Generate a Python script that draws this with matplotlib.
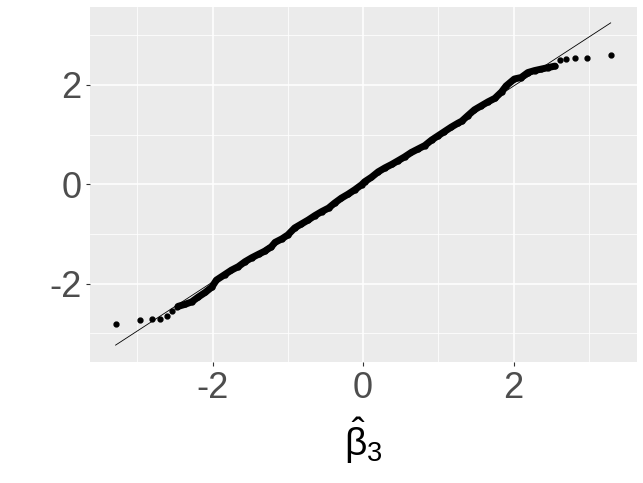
import numpy as np
import matplotlib
matplotlib.use("Agg")
import matplotlib.pyplot as plt
from matplotlib.ticker import FixedLocator

# QQ plot of beta_3 hat: theoretical normal quantiles vs sample quantiles
# tails (isolated points) and dense body
tail_lo_x = [-3.29, -2.97, -2.81, -2.70, -2.61, -2.54, -2.48]
tail_lo_y = [-2.82, -2.74, -2.72, -2.72, -2.66, -2.56, -2.47]

body_x = [-2.46, -2.37, -2.28, -2.19, -2.10, -2.01, -1.95, -1.84, -1.75, -1.66,
          -1.57, -1.48, -1.39, -1.31, -1.22, -1.17, -1.08, -1.00, -0.91, -0.82,
          -0.73, -0.64, -0.55, -0.46, -0.38, -0.29, -0.20, -0.11, -0.02, 0.02,
          0.11, 0.20, 0.29, 0.38, 0.46, 0.55, 0.64, 0.73, 0.82, 0.91,
          1.00, 1.08, 1.17, 1.26, 1.31, 1.39, 1.48, 1.57, 1.66, 1.75,
          1.84, 1.90, 2.01, 2.10, 2.19, 2.28, 2.37, 2.46, 2.55]
body_y = [-2.46, -2.42, -2.37, -2.27, -2.18, -2.07, -1.93, -1.82, -1.73, -1.66,
          -1.56, -1.48, -1.41, -1.35, -1.26, -1.17, -1.10, -1.02, -0.88, -0.80,
          -0.72, -0.63, -0.55, -0.48, -0.38, -0.28, -0.20, -0.11, -0.01, 0.05,
          0.14, 0.25, 0.33, 0.40, 0.47, 0.55, 0.64, 0.71, 0.78, 0.89,
          0.98, 1.06, 1.15, 1.23, 1.27, 1.38, 1.50, 1.58, 1.66, 1.73,
          1.86, 1.98, 2.12, 2.15, 2.25, 2.29, 2.32, 2.35, 2.38]

tail_hi_x = [2.61, 2.70, 2.81, 2.97, 3.29]
tail_hi_y = [2.51, 2.52, 2.54, 2.54, 2.61]

# reference line (through the quartiles), ends at the theoretical range
qq_line_x = [-3.29, 3.29]
qq_line_y = [-3.24, 3.25]

ticks = [-2, 0, 2]
tick_labels = ["-2", "0", "2"]
minor_ticks = [-3, -1, 1, 3]

plt.rcParams["font.family"] = ["Liberation Sans", "DejaVu Sans"]
plt.rcParams["mathtext.fontset"] = "custom"
plt.rcParams["mathtext.rm"] = "Liberation Sans"
plt.rcParams["mathtext.it"] = "Liberation Sans"

fig = plt.figure(figsize=(6.43, 4.83), dpi=100)
ax = fig.add_axes([90 / 643, 1 - 362 / 483, (637 - 90) / 643, (362 - 7) / 483])
ax.set_facecolor("#EBEBEB")

all_x = tail_lo_x + body_x + tail_hi_x
all_y = tail_lo_y + body_y + tail_hi_y

# dense middle of the sample drawn as a thick band through the points
ax.plot(body_x, body_y, color="black", lw=5.0, solid_capstyle="round",
        solid_joinstyle="round", zorder=3)
ax.plot(all_x, all_y, "o", color="black", ms=3.5, zorder=3)
ax.plot(qq_line_x, qq_line_y, color="black", lw=0.6, zorder=4)

ax.set_xlim(-3.63, 3.64)
ax.set_ylim(-3.58, 3.57)

ax.xaxis.set_major_locator(FixedLocator(ticks))
ax.yaxis.set_major_locator(FixedLocator(ticks))
ax.xaxis.set_minor_locator(FixedLocator(minor_ticks))
ax.yaxis.set_minor_locator(FixedLocator(minor_ticks))
ax.set_xticklabels(tick_labels)
ax.set_yticklabels(tick_labels)

ax.grid(which="major", color="white", lw=1.1)
ax.grid(which="minor", color="white", lw=0.55)
ax.set_axisbelow(True)
for s in ax.spines.values():
    s.set_visible(False)

ax.tick_params(which="major", length=3.2, width=0.8, color="#333333",
               labelsize=26, labelcolor="#4D4D4D", pad=3)
ax.tick_params(which="minor", length=0)

ax.set_xlabel(r"$\hat{\beta}_3$", fontsize=28, color="black", labelpad=7)

fig.savefig("out.png", dpi=100)
